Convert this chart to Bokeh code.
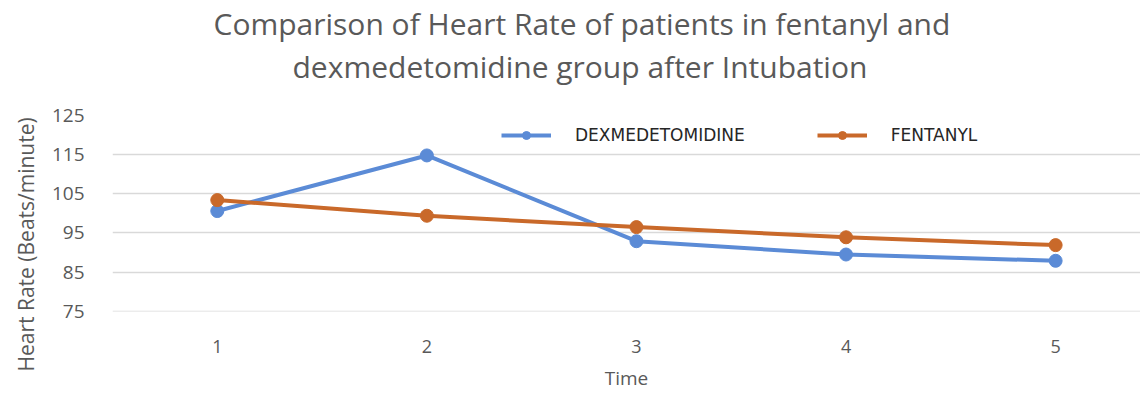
from bokeh.plotting import figure
from bokeh.models import Title, FixedTicker, Range1d, Legend, LegendItem
from bokeh.embed import file_html
from bokeh.resources import INLINE

time_points = [1, 2, 3, 4, 5]
dexmedetomidine = [100.6, 114.8, 92.9, 89.5, 87.9]
fentanyl = [103.4, 99.4, 96.5, 93.9, 91.9]
y_ticks = [75, 85, 95, 105, 115, 125]

BLUE = "#5B8BD6"
ORANGE = "#C9692A"
GRAY = "#595959"
FONT = "Open Sans"

p = figure(width=1140, height=393, output_backend="svg", toolbar_location=None,
           x_range=Range1d(0.5, 5.405), y_range=Range1d(74.95, 125),
           min_border_left=110, min_border_right=0, min_border_top=113, min_border_bottom=79)
p.outline_line_color = None
p.background_fill_color = "white"

# spacer between frame and the two-line title
p.add_layout(Title(text=" ", standoff=26, text_font_size="1px"), "above")
p.add_layout(Title(text="dexmedetomidine  group after Intubation", align="left", offset=180,
                   standoff=0, text_font=FONT, text_font_size="30px", text_font_style="normal",
                   text_color=GRAY), "above")
p.add_layout(Title(text="Comparison of Heart Rate of patients in fentanyl and", align="left", offset=101,
                   standoff=0, text_font=FONT, text_font_size="30px", text_font_style="normal",
                   text_color=GRAY), "above")

r1 = p.line(time_points, dexmedetomidine, line_color=BLUE, line_width=4)
c1 = p.scatter(time_points, dexmedetomidine, size=13, fill_color=BLUE, line_color=BLUE)
r2 = p.line(time_points, fentanyl, line_color=ORANGE, line_width=4)
c2 = p.scatter(time_points, fentanyl, size=13, fill_color=ORANGE, line_color=ORANGE)

legend = Legend(items=[LegendItem(label="DEXMEDETOMIDINE", renderers=[r1, c1]),
                       LegendItem(label="FENTANYL", renderers=[r2, c2])],
                orientation="horizontal", location=(389, 166),
                glyph_width=50, glyph_height=20, label_standoff=24, spacing=72,
                padding=0, margin=0, border_line_color=None, background_fill_alpha=0,
                label_text_font="DejaVu Sans", label_text_font_size="17px", label_text_color="#262626")
p.add_layout(legend, "center")

p.xaxis.ticker = FixedTicker(ticks=time_points)
p.yaxis.ticker = FixedTicker(ticks=y_ticks)
for ax in (p.xaxis[0], p.yaxis[0]):
    ax.axis_line_color = None
    ax.major_tick_line_color = None
    ax.minor_tick_line_color = None
    ax.major_label_text_font = FONT
    ax.major_label_text_color = GRAY
    ax.axis_label_text_font = FONT
    ax.axis_label_text_color = GRAY
    ax.axis_label_text_font_style = "normal"

p.xaxis.axis_label = "Time"
p.xaxis.major_label_text_font_size = "18px"
p.xaxis.axis_label_text_font_size = "19px"
p.xaxis.major_label_standoff = 22
p.xaxis.axis_label_standoff = 9

p.yaxis.major_label_text_font_size = "19px"
p.yaxis.major_label_standoff = 22

p.add_layout(Title(text="Heart Rate (Beats/minute)", align="left", offset=-60, standoff=18,
                   text_font=FONT, text_font_size="21px", text_font_style="normal",
                   text_color=GRAY), "left")

p.xgrid.grid_line_color = None
p.ygrid.grid_line_color = "#D9D9D9"
p.ygrid.grid_line_width = 1.5

open("out.html", "w").write(file_html(p, INLINE))
